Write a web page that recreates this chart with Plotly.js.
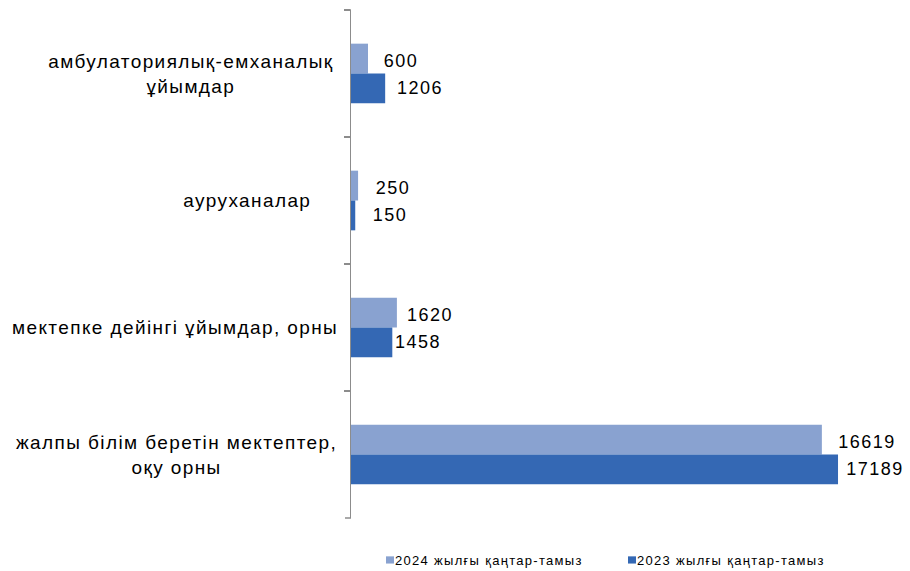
<!DOCTYPE html>
<html>
<head>
<meta charset="utf-8">
<script src="https://cdn.plot.ly/plotly-3.0.1.min.js"></script>
<style>
html,body{margin:0;padding:0;background:#fff;}
#chart{width:910px;height:571px;}
</style>
</head>
<body>
<div id="chart"></div>
<script>
const categories = [
  "амбулаториялық-емханалық<br>ұйымдар",
  "ауруханалар",
  "мектепке дейінгі ұйымдар, орны",
  "жалпы білім беретін мектептер,<br>оқу орны"
];
const series2024Name = "2024 жылғы қаңтар-тамыз";
const series2023Name = "2023 жылғы қаңтар-тамыз";
const values2024 = [600, 250, 1620, 16619];
const values2023 = [1206, 150, 1458, 17189];

// ---- layout / style (not data) ----
const FONT = "Liberation Sans, Arial, sans-serif";
const L = 351, W = 530, T = 10, B = 53;
const labelCentersPx = [191, 247, 175, 176];
const gap2024 = [16, 18, 11, 18];
const gap2023 = [13, 18, 4, 10];
const color2024 = "#89a2d0", color2023 = "#3468b4";

const traces = [
  {type: "bar", orientation: "h", name: series2024Name, y: categories, x: values2024,
   marker: {color: color2024, line: {width: 0}}, hoverinfo: "x+y"},
  {type: "bar", orientation: "h", name: series2023Name, y: categories, x: values2023,
   marker: {color: color2023, line: {width: 0}}, hoverinfo: "x+y"}
];

const annotations = [];
categories.forEach((c, i) => {
  annotations.push({
    xref: "paper", yref: "y", x: (labelCentersPx[i] - L) / W, y: c,
    text: c, showarrow: false, xanchor: "center", yanchor: "middle", align: "center",
    font: {family: FONT, size: 19, color: "#000"}, name: "cat"
  });
  annotations.push({
    xref: "x", yref: "y", x: values2024[i], y: c, text: String(values2024[i]),
    showarrow: false, xanchor: "left", yanchor: "middle", xshift: gap2024[i], yshift: 13,
    font: {family: FONT, size: 18, color: "#000"}, name: "val"
  });
  annotations.push({
    xref: "x", yref: "y", x: values2023[i], y: c, text: String(values2023[i]),
    showarrow: false, xanchor: "left", yanchor: "middle", xshift: gap2023[i], yshift: -14,
    font: {family: FONT, size: 18, color: "#000"}, name: "val"
  });
});

const tickEnd = (yp) => ({type: "line", xref: "paper", yref: "paper",
  x0: -6 / W, x1: 0, y0: yp, y1: yp, line: {color: "#8c8c8c", width: 1.5}});

const layout = {
  width: 910, height: 571,
  margin: {l: L, r: 910 - L - W, t: T, b: B, pad: 0, autoexpand: false},
  paper_bgcolor: "#fff", plot_bgcolor: "#fff",
  barmode: "group", bargap: 0.53, bargroupgap: 0,
  showlegend: true,
  legend: {
    orientation: "h", xref: "container", yref: "container",
    x: 355 / 910, xanchor: "left", y: 1 - 545 / 571, yanchor: "top",
    font: {family: FONT, size: 13, color: "#000"},
    itemwidth: 30, entrywidth: 197, entrywidthmode: "pixels", itemsizing: "constant"
  },
  xaxis: {range: [0, 18706], visible: false, showgrid: false, zeroline: false, fixedrange: true},
  yaxis: {
    type: "category", autorange: "reversed",
    showline: true, linecolor: "#8c8c8c", linewidth: 1.5,
    ticks: "outside", ticklen: 6, tickcolor: "#8c8c8c", tickwidth: 1.5,
    tickson: "boundaries", showticklabels: false, showgrid: false, zeroline: false
  },
  shapes: [tickEnd(0), tickEnd(1)],
  annotations: annotations
};

Plotly.newPlot("chart", traces, layout, {displayModeBar: false, staticPlot: true}).then(() => {
  // letter spacing to mimic the slightly stretched source typography
  const anns = document.querySelectorAll("#chart .annotation");
  anns.forEach((g, idx) => {
    const t = g.querySelector("text");
    if (!t) return;
    t.style.letterSpacing = (idx % 3 === 0) ? "1.4px" : "1.5px";
  });
  document.querySelectorAll("#chart .legendtext").forEach(t => { t.style.letterSpacing = "1.3px"; });
  // smaller legend swatches placed close to the text, as in the source
  document.querySelectorAll("#chart .legend .legendpoints path").forEach(p => {
    p.setAttribute("transform", "translate(35,0) scale(0.67,0.6)");
  });
});
</script>
</body>
</html>
